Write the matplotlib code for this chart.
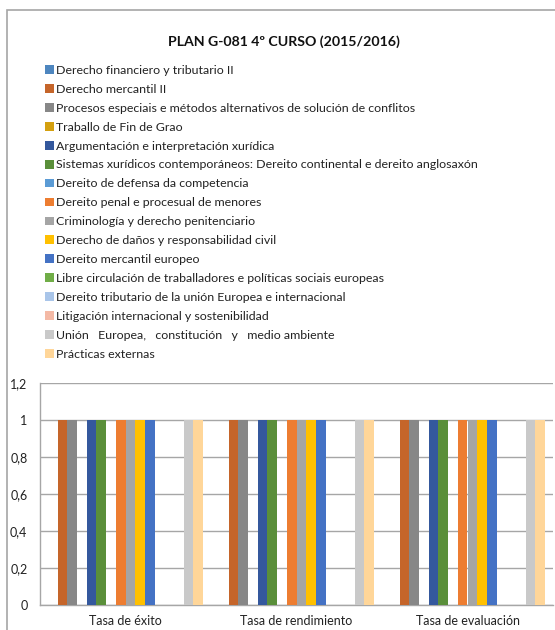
import numpy as np
import matplotlib
matplotlib.use("Agg")
import matplotlib.pyplot as plt
from matplotlib.patches import Rectangle

plt.rcParams['font.family'] = ['Lato', 'DejaVu Sans']

title = "PLAN G-081 4º CURSO (2015/2016)"

categories = ["Tasa de éxito", "Tasa de rendimiento", "Tasa de evaluación"]

subjects = [
    "Derecho financiero y tributario II",
    "Derecho mercantil II",
    "Procesos especiais e métodos alternativos de solución de conflitos",
    "Traballo de Fin de Grao",
    "Argumentación e interpretación xurídica",
    "Sistemas xurídicos contemporáneos: Dereito continental e dereito anglosaxón",
    "Dereito de defensa da competencia",
    "Dereito penal e procesual de menores",
    "Criminología y derecho penitenciario",
    "Derecho de daños y responsabilidad civil",
    "Dereito mercantil europeo",
    "Libre circulación de traballadores e políticas sociais europeas",
    "Dereito tributario de la unión Europea e internacional",
    "Litigación internacional y sostenibilidad",
    "Unión   Europea,   constitución   y   medio ambiente",
    "Prácticas externas",
]

# one value per category (éxito, rendimiento, evaluación); 0 = no data
values = [
    [0, 0, 0],
    [1, 1, 1],
    [1, 1, 1],
    [0, 0, 0],
    [1, 1, 1],
    [1, 1, 1],
    [0, 0, 0],
    [1, 1, 1],
    [1, 1, 1],
    [1, 1, 1],
    [1, 1, 1],
    [0, 0, 0],
    [0, 0, 0],
    [0, 0, 0],
    [1, 1, 1],
    [1, 1, 1],
]

colors = [
    "#4E86BF", "#C5652A", "#878787", "#D4A00F",
    "#34589D", "#5A8F3A", "#5B9BD5", "#ED7D31",
    "#A5A5A5", "#FFC000", "#4472C4", "#70AD47",
    "#A9C5E9", "#F4B9A5", "#C9C9C9", "#FFD699",
]

W, H = 555, 630
fig = plt.figure(figsize=(W / 100, H / 100), dpi=100)

# outer chart frame (cut off at right and bottom like the screenshot)
fig.patches.append(Rectangle((7 / W, -0.05), 1.1, 1 - 10 / H + 0.05,
                             transform=fig.transFigure, fill=False,
                             edgecolor="#A6A6A6", linewidth=1.2))

ax = fig.add_axes([40 / W, 25 / H, 513 / W, 222 / H])

x = np.arange(len(categories))
w = 0.0567
n = len(subjects)
for i in range(n):
    ax.bar(x + (i - (n - 1) / 2) * w, values[i], width=w, color=colors[i],
           label=subjects[i], linewidth=0, zorder=3)

ax.set_xlim(-0.5, len(categories) - 0.5)
ax.set_ylim(0, 1.2)
ax.set_yticks(np.arange(0, 1.21, 0.2))
ax.set_yticklabels(["0", "0,2", "0,4", "0,6", "0,8", "1", "1,2"])
ax.set_xticks(x)
ax.set_xticklabels(categories)
ax.tick_params(axis="both", length=0, labelsize=9, colors="#222222")
ax.tick_params(axis="y", pad=9)
ax.tick_params(axis="x", pad=7)
ax.grid(axis="y", color="#A6A6A6", linewidth=1.0, zorder=0)
for s in ["top", "right"]:
    ax.spines[s].set_visible(False)
ax.spines["left"].set_color("#A6A6A6")
ax.spines["bottom"].set_color("#A6A6A6")
ax.spines["left"].set_linewidth(1.0)
ax.spines["bottom"].set_linewidth(1.0)

fig.text(284 / W, 1 - 42 / H, title, ha="center", va="center",
         fontsize=10.2, fontweight="bold", color="#111111")

handles, labels = ax.get_legend_handles_labels()
leg = fig.legend(handles, labels, loc="upper left",
                 bbox_to_anchor=(40 / W, 1 - 60 / H), frameon=False,
                 fontsize=8.9, handlelength=0.7, handleheight=0.7,
                 handletextpad=0.2, labelspacing=0.64, borderaxespad=0)
for t in leg.get_texts():
    t.set_color("#222222")

fig.savefig("out.png", dpi=100)
